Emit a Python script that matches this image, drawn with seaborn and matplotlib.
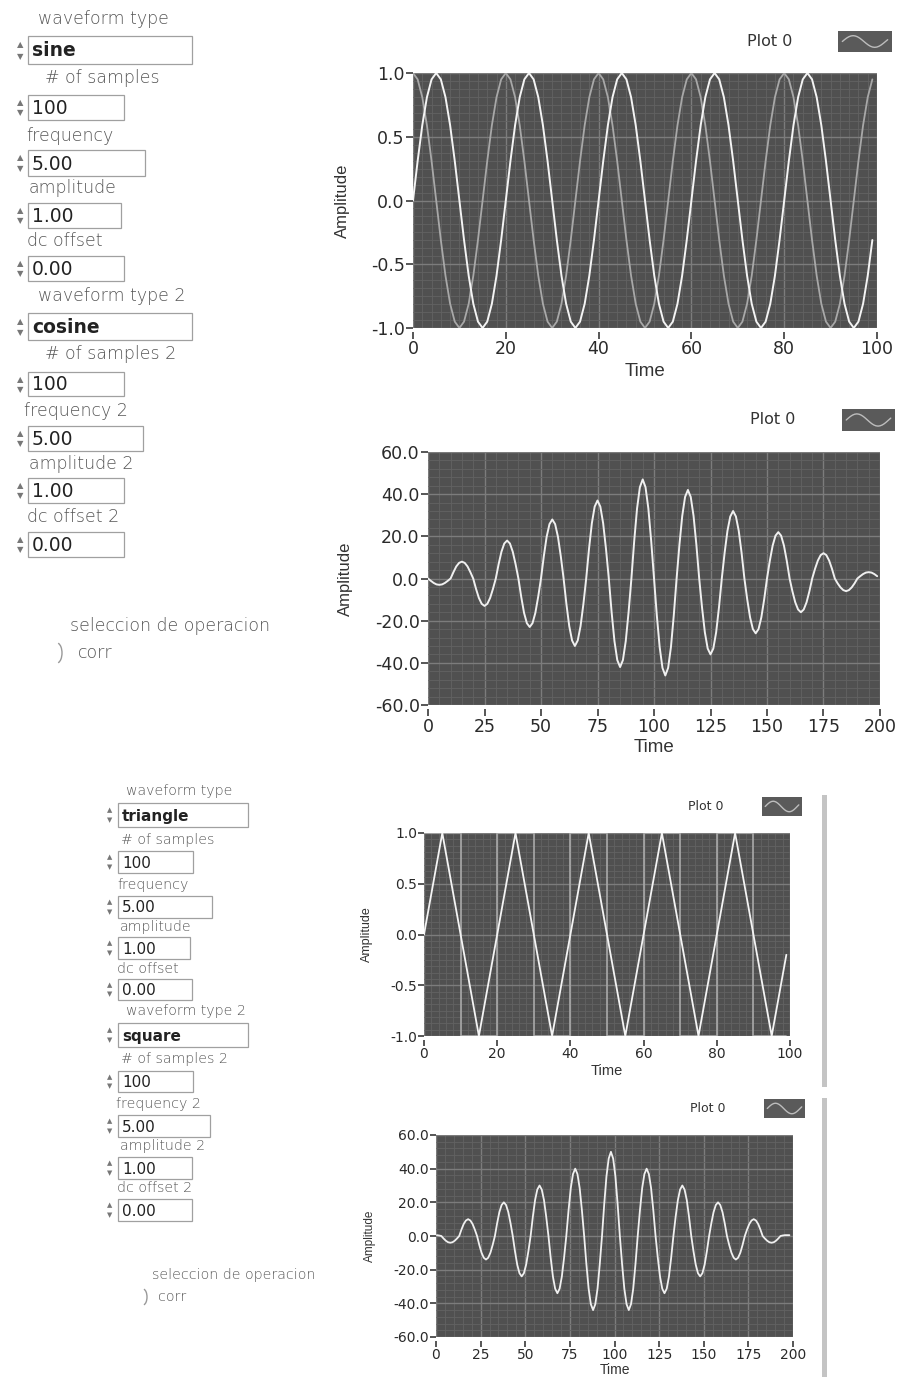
import numpy as np  # numeric helpers
import pandas as pd  # tables for seaborn
import seaborn as sns  # plotting
import matplotlib.pyplot as plt  # figure handling
from matplotlib.patches import Rectangle, Arc  # front panel boxes
from matplotlib.ticker import FormatStrFormatter, AutoMinorLocator  # axis ticks

# ---------------- data ----------------
wave_t = list(range(100))
sine_vals = [
    0, 0.31, 0.59, 0.81, 0.95, 1, 0.95, 0.81, 0.59, 0.31, 0, -0.31, -0.59, -0.81, -0.95, -1, -0.95, -0.81, -0.59, -0.31,
    0, 0.31, 0.59, 0.81, 0.95, 1, 0.95, 0.81, 0.59, 0.31, 0, -0.31, -0.59, -0.81, -0.95, -1, -0.95, -0.81, -0.59, -0.31,
    0, 0.31, 0.59, 0.81, 0.95, 1, 0.95, 0.81, 0.59, 0.31, 0, -0.31, -0.59, -0.81, -0.95, -1, -0.95, -0.81, -0.59, -0.31,
    0, 0.31, 0.59, 0.81, 0.95, 1, 0.95, 0.81, 0.59, 0.31, 0, -0.31, -0.59, -0.81, -0.95, -1, -0.95, -0.81, -0.59, -0.31,
    0, 0.31, 0.59, 0.81, 0.95, 1, 0.95, 0.81, 0.59, 0.31, 0, -0.31, -0.59, -0.81, -0.95, -1, -0.95, -0.81, -0.59, -0.31,
]
cosine_vals = [
    1, 0.95, 0.81, 0.59, 0.31, 0, -0.31, -0.59, -0.81, -0.95, -1, -0.95, -0.81, -0.59, -0.31, 0, 0.31, 0.59, 0.81, 0.95,
    1, 0.95, 0.81, 0.59, 0.31, 0, -0.31, -0.59, -0.81, -0.95, -1, -0.95, -0.81, -0.59, -0.31, 0, 0.31, 0.59, 0.81, 0.95,
    1, 0.95, 0.81, 0.59, 0.31, 0, -0.31, -0.59, -0.81, -0.95, -1, -0.95, -0.81, -0.59, -0.31, 0, 0.31, 0.59, 0.81, 0.95,
    1, 0.95, 0.81, 0.59, 0.31, 0, -0.31, -0.59, -0.81, -0.95, -1, -0.95, -0.81, -0.59, -0.31, 0, 0.31, 0.59, 0.81, 0.95,
    1, 0.95, 0.81, 0.59, 0.31, 0, -0.31, -0.59, -0.81, -0.95, -1, -0.95, -0.81, -0.59, -0.31, 0, 0.31, 0.59, 0.81, 0.95,
]

tri_t = [0, 5, 15, 25, 35, 45, 55, 65, 75, 85, 95, 99]
tri_vals = [0, 1, -1, 1, -1, 1, -1, 1, -1, 1, -1, -0.2]
square_t = [0, 10, 20, 30, 40, 50, 60, 70, 80, 90, 99]
square_vals = [1, -1, 1, -1, 1, -1, 1, -1, 1, -1, -1]

# correlation sine x cosine, read every 1.25 from 0 (one row per half period)
corr1_t = np.arange(0, 200, 1.25)
corr1_vals = [
    0, -1.1, -2.1, -2.8, -3, -2.8, -2.1, -1.1,
    0, 3.0, 5.7, 7.4, 8, 7.4, 5.7, 3.0,
    0, -4.9, -9.2, -12.0, -13, -12.0, -9.2, -4.9,
    0, 6.8, 12.7, 16.6, 18, 16.6, 12.7, 6.8,
    0, -8.7, -16.3, -21.2, -23, -21.2, -16.3, -8.7,
    0, 10.6, 19.8, 25.8, 28, 25.8, 19.8, 10.6,
    0, -12.2, -22.6, -29.4, -32, -29.4, -22.6, -12.2,
    0, 14.1, 26.2, 34.1, 37, 34.1, 26.2, 14.1,
    0, -16.0, -29.7, -38.7, -42, -38.7, -29.7, -16.0,
    0, 17.9, 33.2, 43.3, 47, 43.3, 33.2, 17.9,
    0, -17.5, -32.5, -42.4, -46, -42.4, -32.5, -17.5,
    0, 16.0, 29.7, 38.7, 42, 38.7, 29.7, 16.0,
    0, -13.7, -25.5, -33.2, -36, -33.2, -25.5, -13.7,
    0, 12.2, 22.6, 29.4, 32, 29.4, 22.6, 12.2,
    0, -9.9, -18.4, -24.0, -26, -24.0, -18.4, -9.9,
    0, 8.4, 15.6, 20.3, 22, 20.3, 15.6, 8.4,
    0, -6.1, -11.3, -14.7, -16, -14.7, -11.3, -6.1,
    0, 4.6, 8.5, 11.1, 12, 11.1, 8.5, 4.6,
    0, -2.3, -4.2, -5.5, -6, -5.5, -4.2, -2.3,
    0, 1.1, 2.1, 2.8, 3, 2.8, 2.1, 1.1,
]
# correlation triangle x square, read every 1.25 from 0.5
corr2_t = np.arange(0.5, 199, 1.25)
corr2_vals = [
    0.5, 0.3,
    0, -1.5, -2.8, -3.7, -4, -3.7, -2.8, -1.5,
    0, 3.8, 7.1, 9.2, 10, 9.2, 7.1, 3.8,
    0, -5.3, -9.9, -12.9, -14, -12.9, -9.9, -5.3,
    0, 7.6, 14.2, 18.4, 20, 18.4, 14.2, 7.6,
    0, -9.1, -17.0, -22.1, -24, -22.1, -17.0, -9.1,
    0, 11.4, 21.3, 27.6, 30, 27.6, 21.3, 11.4,
    0, -12.9, -24.1, -31.3, -34, -31.3, -24.1, -12.9,
    0, 15.2, 28.4, 36.8, 40, 36.8, 28.4, 15.2,
    0, -16.7, -31.2, -40.5, -44, -40.5, -31.2, -16.7,
    0, 19.0, 35.5, 46.0, 50, 46.0, 35.5, 19.0,
    0, -16.7, -31.2, -40.5, -44, -40.5, -31.2, -16.7,
    0, 15.2, 28.4, 36.8, 40, 36.8, 28.4, 15.2,
    0, -12.9, -24.1, -31.3, -34, -31.3, -24.1, -12.9,
    0, 11.4, 21.3, 27.6, 30, 27.6, 21.3, 11.4,
    0, -9.1, -17.0, -22.1, -24, -22.1, -17.0, -9.1,
    0, 7.6, 14.2, 18.4, 20, 18.4, 14.2, 7.6,
    0, -5.3, -9.9, -12.9, -14, -12.9, -9.9, -5.3,
    0, 3.8, 7.1, 9.2, 10, 9.2, 7.1, 3.8,
    0, -1.5, -2.8, -3.7, -4, -3.7, -2.8, -1.5,
    0, 0.3, 0.5, 0.5, 0.5,
]

# front panel controls
ctrl_labels = ["waveform type", "# of samples", "frequency", "amplitude", "dc offset",
               "waveform type 2", "# of samples 2", "frequency 2", "amplitude 2", "dc offset 2"]
ctrl_values_top = ["sine", "100", "5.00", "1.00", "0.00", "cosine", "100", "5.00", "1.00", "0.00"]
ctrl_values_bottom = ["triangle", "100", "5.00", "1.00", "0.00", "square", "100", "5.00", "1.00", "0.00"]

# layout of the control column (pixels)
top_lab_x = [38, 45, 26, 29, 27, 38, 45, 24, 29, 27]
top_lab_y = [19, 78, 136, 188, 241, 296, 354, 411, 464, 517]
top_box_y = [36, 95, 150, 203, 256, 313, 372, 426, 478, 532]
top_box_w = [164, 96, 117, 93, 96, 164, 96, 115, 96, 96]
top_box_h = [28, 25, 26, 25, 25, 27, 24, 25, 25, 25]
bot_lab_x = [126, 121, 117, 120, 117, 126, 121, 116, 120, 117]
bot_lab_y = [791, 840, 885, 927, 969, 1011, 1059, 1104, 1146, 1188]
bot_box_y = [803, 851, 896, 937, 979, 1023, 1071, 1115, 1157, 1199]
bot_box_w = [130, 75, 94, 72, 74, 130, 75, 92, 74, 74]
bot_box_h = [24, 22, 22, 22, 21, 24, 21, 22, 22, 22]

# ---------------- styling ----------------
W, H = 911, 1377
PLOT_BG = "#505050"
GRID_MAJ = "#7c7c7c"
GRID_MIN = "#626262"
sns.set_theme(style="white")
plt.rcParams["font.family"] = ["Liberation Sans", "DejaVu Sans"]
plt.rcParams["axes.unicode_minus"] = False

fig = plt.figure(figsize=(W / 100, H / 100), dpi=100)
fig.patch.set_facecolor("white")


def add_px_axes(x0, y0, x1, y1):
    # axes placed by pixel box (top-left origin)
    return fig.add_axes([x0 / W, 1 - y1 / H, (x1 - x0) / W, (y1 - y0) / H])


def style_graph(ax, box, xmax, xstep, ylim, ystep, fs, lfs, xminor, yminor, time_y, amp_x, tick_len):
    x0, y0, x1, y1 = box
    ax.set_facecolor(PLOT_BG)
    ax.set_xlim(0, xmax)
    ax.set_ylim(*ylim)
    ax.set_xticks(np.arange(0, xmax + 0.1, xstep))
    ax.set_yticks(np.arange(ylim[0], ylim[1] + 0.001, ystep))
    ax.yaxis.set_major_formatter(FormatStrFormatter("%.1f"))
    ax.xaxis.set_minor_locator(AutoMinorLocator(xminor))
    ax.yaxis.set_minor_locator(AutoMinorLocator(yminor))
    ax.grid(which="major", color=GRID_MAJ, lw=1.0)
    ax.grid(which="minor", color=GRID_MIN, lw=0.6)
    ax.set_axisbelow(True)
    for s in ax.spines.values():
        s.set_visible(False)
    ax.spines["bottom"].set_position(("outward", 3))
    ax.tick_params(which="major", direction="out", length=tick_len, width=1.2, color="#3a3a3a",
                   labelsize=fs, labelcolor="#2a2a2a", pad=1, left=True, bottom=True)
    ax.tick_params(which="minor", length=0)
    for lab in ax.get_xticklabels() + ax.get_yticklabels():
        lab.set_family(["DejaVu Sans"])
    ax.set_xlabel("Time", fontsize=lfs, color="#333333")
    ax.set_ylabel("Amplitude", fontsize=lfs - 1.5, color="#333333")
    ax.xaxis.set_label_coords(0.5, -(time_y - y1) / (y1 - y0))
    ax.xaxis.label.set_va("center")
    ax.yaxis.set_label_coords(-(x0 - amp_x) / (x1 - x0), 0.5)
    ax.yaxis.label.set_va("center")


def legend_box(tx, ty, box, fs):
    fig.text(tx / W, 1 - ty / H, "Plot 0", fontsize=fs, color="#333333", va="center",
             family=["DejaVu Sans"])
    lax = add_px_axes(*box)
    lax.set_facecolor("#5a5a5a")
    sns.lineplot(x=wave_t[:22], y=sine_vals[:22], ax=lax, color="#bdbdbd", lw=1)
    lax.set_xlim(-2, 23)
    lax.set_ylim(-1.8, 1.8)
    lax.set_xticks([])
    lax.set_yticks([])
    lax.set_xlabel("")
    lax.set_ylabel("")
    for s in lax.spines.values():
        s.set_visible(False)


def draw_controls(values, box_x, lab_x, lab_y, box_y, box_w, box_h, lab_fs, val_fs):
    for i, val in enumerate(values):
        fig.text(lab_x[i] / W, 1 - lab_y[i] / H, ctrl_labels[i], fontsize=lab_fs, color="#555555",
                 va="center", family=["DejaVu Sans"], fontweight="light")
        by, bh = box_y[i], box_h[i]
        fig.patches.append(Rectangle((box_x / W, 1 - (by + bh) / H), box_w[i] / W, bh / H,
                                     transform=fig.transFigure, fill=False, ec="#a0a0a0", lw=0.9))
        fig.text((box_x + 4) / W, 1 - (by + bh / 2 + 1) / H, val, fontsize=val_fs, color="#222222",
                 va="center", family=["DejaVu Sans"],
                 fontweight="bold" if val.isalpha() else "normal")
        fig.text((box_x - 11) / W, 1 - (by + bh * 0.3) / H, "\u25b2", fontsize=val_fs * 0.45,
                 color="#777777", va="center", family=["DejaVu Sans"])
        fig.text((box_x - 11) / W, 1 - (by + bh * 0.72) / H, "\u25bc", fontsize=val_fs * 0.45,
                 color="#777777", va="center", family=["DejaVu Sans"])


# ---------------- graph 1: sine & cosine ----------------
df1 = pd.DataFrame({"Time": wave_t, "sine": sine_vals, "cosine": cosine_vals})
box1 = (413, 73, 877, 328)
ax1 = add_px_axes(*box1)
sns.lineplot(data=df1, x="Time", y="cosine", ax=ax1, color="#a8a8a8", lw=1.3)
sns.lineplot(data=df1, x="Time", y="sine", ax=ax1, color="#f4f4f4", lw=1.4)
style_graph(ax1, box1, 100, 20, (-1, 1), 0.5, 12.5, 13.5, 10, 8, 372, 342, 5)
legend_box(747, 41, (838, 31, 892, 52), 11.5)

# ---------------- graph 2: correlation ----------------
df2 = pd.DataFrame({"Time": corr1_t, "corr": corr1_vals})
box2 = (428, 452, 880, 705)
ax2 = add_px_axes(*box2)
sns.lineplot(data=df2, x="Time", y="corr", ax=ax2, color="#f0f0f0", lw=1.4)
style_graph(ax2, box2, 200, 25, (-60, 60), 20, 12.5, 13.5, 5, 5, 748, 345, 5)
legend_box(750, 419, (842, 409, 895, 431), 11.5)

# ---------------- graph 3: triangle & square ----------------
box3 = (424, 833, 790, 1036)
ax3 = add_px_axes(*box3)
sns.lineplot(x=square_t, y=square_vals, ax=ax3, color="#a8a8a8", lw=1.2, drawstyle="steps-post")
sns.lineplot(x=tri_t, y=tri_vals, ax=ax3, color="#f4f4f4", lw=1.3)
style_graph(ax3, box3, 100, 20, (-1, 1), 0.5, 10, 10.5, 10, 8, 1071, 367, 4)
legend_box(688, 806, (762, 797, 802, 816), 9)

# ---------------- graph 4: correlation ----------------
df4 = pd.DataFrame({"Time": corr2_t, "corr": corr2_vals})
box4 = (436, 1135, 793, 1337)
ax4 = add_px_axes(*box4)
sns.lineplot(data=df4, x="Time", y="corr", ax=ax4, color="#f0f0f0", lw=1.3)
style_graph(ax4, box4, 200, 25, (-60, 60), 20, 10, 10, 5, 5, 1370, 370, 4)
legend_box(690, 1109, (764, 1099, 805, 1118), 9)

# ---------------- front panel controls ----------------
draw_controls(ctrl_values_top, 28, top_lab_x, top_lab_y, top_box_y, top_box_w, top_box_h, 12.5, 13.5)
fig.text(70 / W, 1 - 626 / H, "seleccion de operacion", fontsize=12.5, color="#555555",
         va="center", family=["DejaVu Sans"], fontweight="light")
fig.text(78 / W, 1 - 653 / H, "corr", fontsize=12.5, color="#555555", va="center",
         family=["DejaVu Sans"], fontweight="light")
fig.patches.append(Arc((57 / W, 1 - 653 / H), 10 / W, 20 / H, theta1=-80, theta2=80,
                       transform=fig.transFigure, color="#999999", lw=1))

draw_controls(ctrl_values_bottom, 118, bot_lab_x, bot_lab_y, bot_box_y, bot_box_w, bot_box_h, 10.2, 11)
fig.text(152 / W, 1 - 1275 / H, "seleccion de operacion", fontsize=10.2, color="#555555",
         va="center", family=["DejaVu Sans"], fontweight="light")
fig.text(158 / W, 1 - 1297 / H, "corr", fontsize=10.2, color="#555555", va="center",
         family=["DejaVu Sans"], fontweight="light")
fig.patches.append(Arc((143 / W, 1 - 1297 / H), 8 / W, 16 / H, theta1=-80, theta2=80,
                       transform=fig.transFigure, color="#999999", lw=1))

# scroll strips next to the lower graphs
for y0, y1 in [(795, 1087), (1098, 1377)]:
    fig.patches.append(Rectangle((822 / W, 1 - y1 / H), 5 / W, (y1 - y0) / H,
                                 transform=fig.transFigure, color="#c4c4c4", lw=0))

fig.savefig("out.png", dpi=100)
